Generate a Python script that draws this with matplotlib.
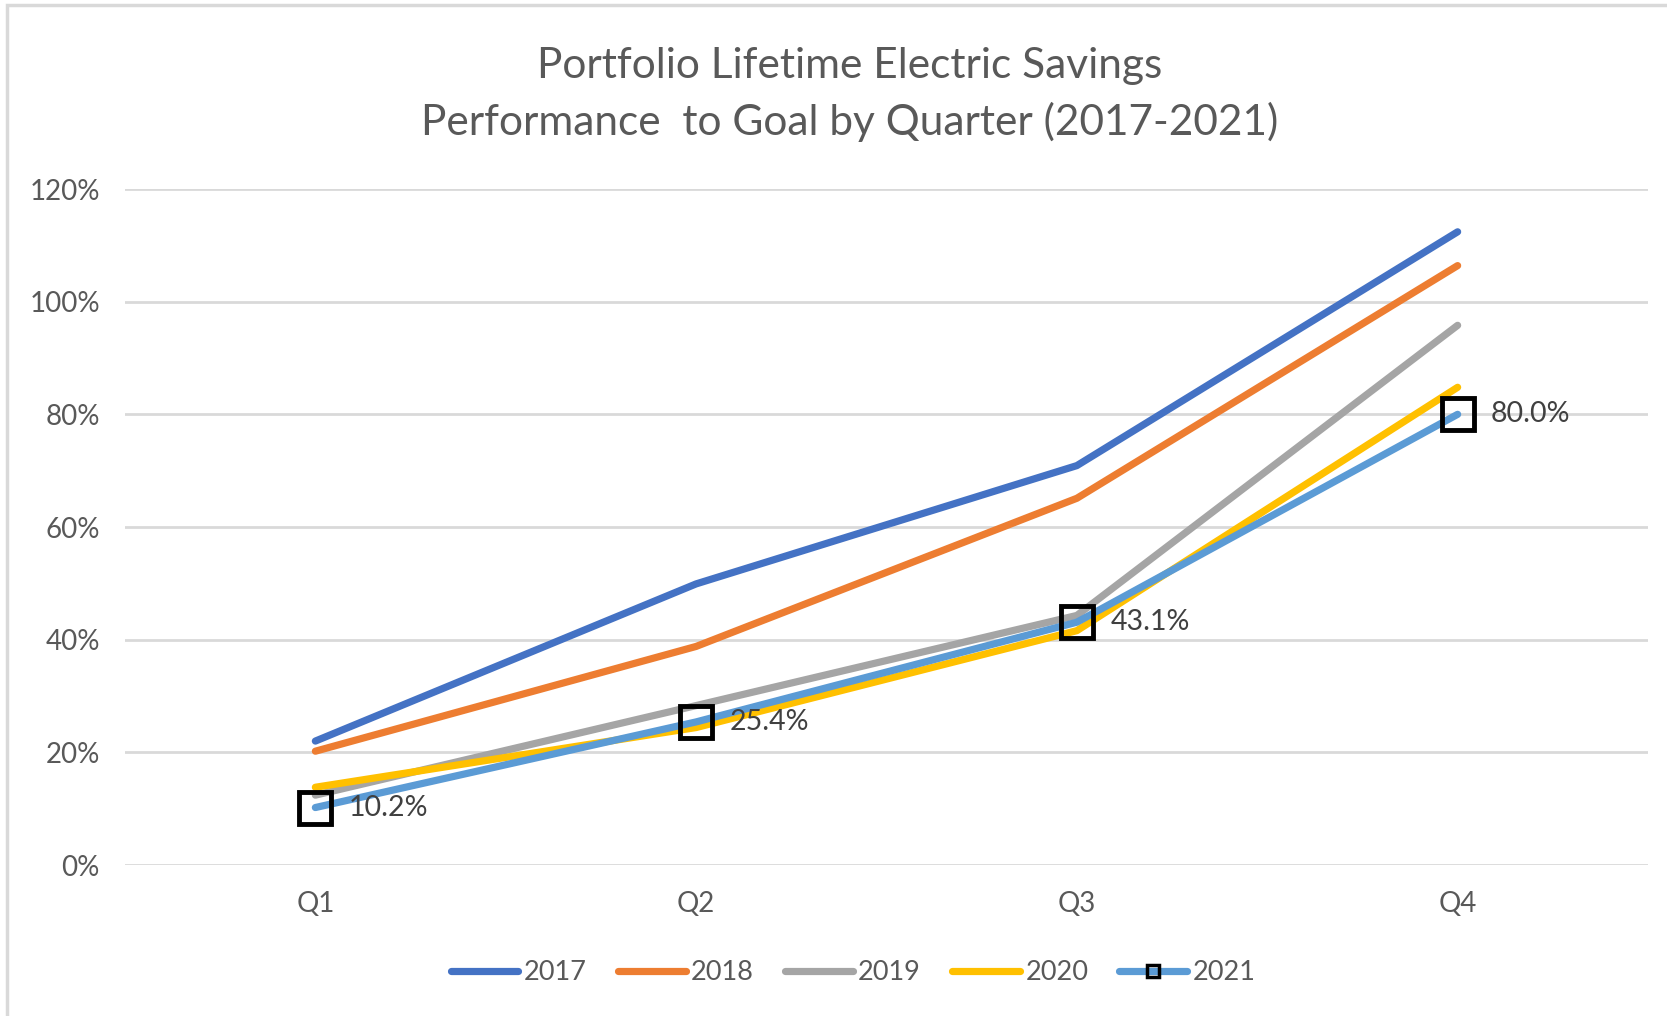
import matplotlib
matplotlib.use("Agg")
import matplotlib.pyplot as plt
from matplotlib.lines import Line2D
from matplotlib.patches import Rectangle
from matplotlib.ticker import FuncFormatter

quarters = ["Q1", "Q2", "Q3", "Q4"]
years = ["2017", "2018", "2019", "2020", "2021"]
v2017 = [0.220, 0.499, 0.709, 1.124]
v2018 = [0.202, 0.388, 0.651, 1.064]
v2019 = [0.124, 0.283, 0.443, 0.958]
v2020 = [0.138, 0.244, 0.416, 0.848]
v2021 = [0.102, 0.254, 0.431, 0.800]
yticks = [0, 0.2, 0.4, 0.6, 0.8, 1.0, 1.2]

colors = ["#4472C4", "#ED7D31", "#A5A5A5", "#FFC000", "#5B9BD5"]
series = [v2017, v2018, v2019, v2020, v2021]

FONT = ["Lato", "DejaVu Sans"]
plt.rcParams["font.family"] = FONT

W, H = 1667, 1016
fig = plt.figure(figsize=(W / 100, H / 100), dpi=100)
ax = fig.add_axes([125 / W, 1 - 865 / H, (1648 - 125) / W, (865 - 189) / H])

x = list(range(len(quarters)))
for i, (name, vals) in enumerate(zip(years, series)):
    ax.plot(x, vals, color=colors[i], lw=5.2, solid_capstyle="round",
            solid_joinstyle="round", zorder=3 + i)
    if name == "2021":
        ax.plot(x, vals, ls="none", marker="s", ms=23.5, mfc="none", mec="black",
                mew=3.5, zorder=10)
        for xi, v in zip(x, vals):
            ax.annotate(f"{v*100:.1f}%", (xi, v), xytext=(24, 0),
                        textcoords="offset points", va="center", ha="left",
                        fontsize=20.5, color="#404040", zorder=11)

ax.set_xlim(-0.5, 3.5)
ax.set_ylim(0, 1.2)
ax.set_yticks(yticks)
ax.yaxis.set_major_formatter(FuncFormatter(lambda v, p: f"{v*100:.0f}%"))
ax.set_xticks(x)
ax.set_xticklabels(quarters)
ax.grid(axis="y", color="#D9D9D9", lw=2)
ax.set_axisbelow(True)
for s in ax.spines.values():
    s.set_visible(False)
ax.tick_params(length=0, labelsize=20, labelcolor="#595959")
ax.tick_params(axis="y", pad=18)
ax.tick_params(axis="x", pad=19)

fig.text(850 / W, 1 - 66 / H, "Portfolio Lifetime Electric Savings", ha="center",
         va="center", fontsize=30.5, color="#595959")
fig.text(850 / W, 1 - 122 / H, "Performance  to Goal by Quarter (2017-2021)", ha="center",
         va="center", fontsize=30.5, color="#595959")

# chart frame
fig.patches.append(Rectangle((7 / W, -0.1), 1.2, 1 - 5 / H + 0.1, transform=fig.transFigure,
                             fill=False, ec="#D9D9D9", lw=2.5, zorder=0))

handles = []
for i, name in enumerate(years):
    if name == "2021":
        handles.append(Line2D([0], [0], color=colors[i], lw=5.2, marker="s", ms=9,
                              mfc="none", mec="black", mew=2.5, solid_capstyle="round"))
    else:
        handles.append(Line2D([0], [0], color=colors[i], lw=5.2, solid_capstyle="round"))
fig.legend(handles, years, loc="center", bbox_to_anchor=(853 / W, 1 - 973 / H), ncol=5,
           frameon=False, fontsize=19.5, labelcolor="#595959", handlelength=2.5,
           handletextpad=0.2, columnspacing=1.15)

fig.savefig("out.png", dpi=100)
